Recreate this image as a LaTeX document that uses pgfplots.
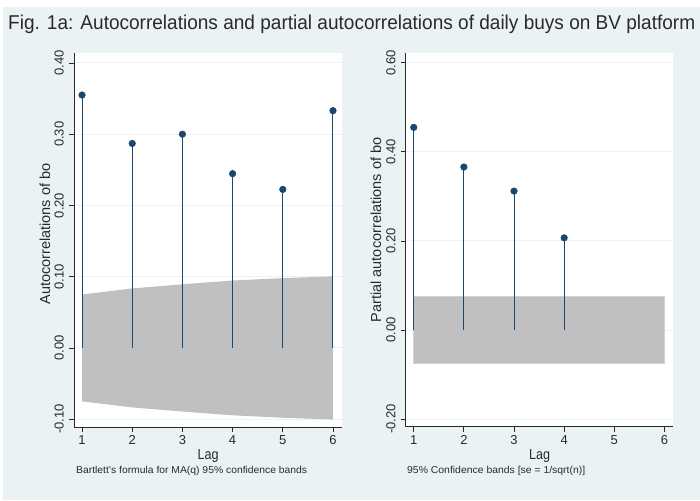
\documentclass[border=0pt]{standalone}
\usepackage{pgfplots}
\pgfplotsset{compat=1.18}
\usepackage{fontspec}
\setmainfont{Liberation Sans}
\usepackage{graphicx}
\definecolor{bg}{HTML}{EAF2F3}
\definecolor{navy}{HTML}{1A476F}
\definecolor{band}{HTML}{C0C0C0}
\definecolor{bandedge}{HTML}{D2D2D2}
\definecolor{txt}{HTML}{2A2A2A}
\pgfplotsset{acf/.style={
  scale only axis,
  axis x line*=bottom, axis y line*=left,
  axis line style={txt, line width=0.8pt},
  axis background/.style={fill=white},
  tick align=outside, major tick length=5pt,
  tick style={txt, line width=0.8pt},
  xtick={1,2,3,4,5,6},
  xticklabels={1,2,3,4,5,6},
  ymajorgrids, grid style={bg, line width=1pt},
  yticklabel shift=5pt,
  yticklabel style={rotate=90, anchor=south, inner sep=0pt, font=\fontsize{13}{13}\selectfont, text=txt,
    /pgf/number format/.cd, fixed, fixed zerofill, precision=2, assume math mode=true},
  xticklabel style={font=\fontsize{13}{13}\selectfont, text=txt},
  stem/.style={ycomb, draw=navy, line width=1pt, mark=*, mark options={fill=navy, draw=navy, line width=0.5pt}, mark size=3.3pt},
}}
\begin{document}
\begin{tikzpicture}[x=1pt,y=1pt]
\useasboundingbox (0,0) rectangle (700,500);
\fill[bg] (0,0) rectangle (700,500);
\fill[white] (0,493) rectangle (700,500);
\fill[white] (0,0) rectangle (3,500);
\node[anchor=base west, inner sep=0pt, text=txt] at (8,470) {\resizebox{687pt}{\height}{\fontsize{20}{20}\selectfont Fig. 1a: Autocorrelations and partial autocorrelations of daily buys on BV platform}};

\begin{axis}[acf, at={(74pt,73pt)}, anchor=south west, width=268pt, height=374pt,
  xmin=0.84, xmax=6.18, ymin=-0.111, ymax=0.414,
  ytick={-0.1,0,0.1,0.2,0.3,0.4}]
\addplot[fill=band, draw=none] coordinates {(1,0.075)(2,0.0835)(3,0.0893)(4,0.0946)(5,0.098)(6,0.1005)(6,-0.1005)(5,-0.098)(4,-0.0946)(3,-0.0893)(2,-0.0835)(1,-0.075)} -- cycle;
\addplot[stem] coordinates {(1,0.355)(2,0.287)(3,0.300)(4,0.2446)(5,0.2225)(6,0.333)};
\end{axis}

\begin{axis}[acf, at={(405.7pt,73.3pt)}, anchor=south west, width=267.3pt, height=373.7pt,
  xmin=0.84, xmax=6.17, ymin=-0.217, ymax=0.622,
  ytick={-0.2,0,0.2,0.4,0.6}]
\addplot[fill=band, draw=bandedge, line width=0.8pt] coordinates {(1,-0.0745)(6,-0.0745)(6,0.0745)(1,0.0745)} -- cycle;
\addplot[stem] coordinates {(1,0.455)(2,0.366)(3,0.312)(4,0.207)};
\end{axis}

\node[rotate=90, text=txt, inner sep=0pt, font=\fontsize{14.5}{14.5}\selectfont] at (45,266) {Autocorrelations of bo};
\node[rotate=90, text=txt, inner sep=0pt, font=\fontsize{14.5}{14.5}\selectfont] at (376,270) {Partial autocorrelations of bo};
\node[anchor=base, inner sep=0pt, text=txt] at (208,41) {\resizebox{21pt}{\height}{\fontsize{14.5}{14.5}\selectfont Lag}};
\node[anchor=base, inner sep=0pt, text=txt] at (539.5,41) {\resizebox{21pt}{\height}{\fontsize{14.5}{14.5}\selectfont Lag}};
\node[anchor=base west, inner sep=0pt, text=txt] at (76,26.7) {\resizebox{231pt}{\height}{\fontsize{10}{10}\selectfont Bartlett's formula for MA(q) 95\% confidence bands}};
\node[anchor=base west, inner sep=0pt, text=txt] at (407,26.7) {\resizebox{178pt}{\height}{\fontsize{10}{10}\selectfont 95\% Confidence bands [se = 1/sqrt(n)]}};
\end{tikzpicture}
\end{document}
